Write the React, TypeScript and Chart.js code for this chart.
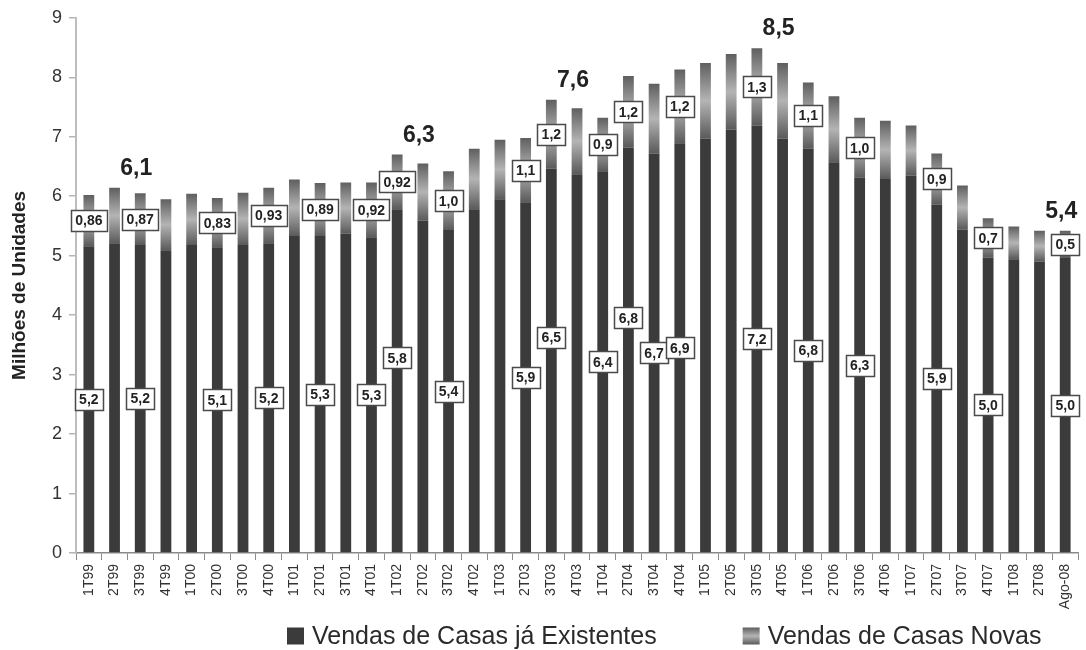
import { useEffect, useRef } from 'react';
import { Chart, registerables } from 'chart.js';

Chart.register(...registerables);

// Quarterly home sales (millions of units, annualised)
const quarters = [
  '1T99', '2T99', '3T99', '4T99', '1T00', '2T00', '3T00', '4T00',
  '1T01', '2T01', '3T01', '4T01', '1T02', '2T02', '3T02', '4T02',
  '1T03', '2T03', '3T03', '4T03', '1T04', '2T04', '3T04', '4T04',
  '1T05', '2T05', '3T05', '4T05', '1T06', '2T06', '3T06', '4T06',
  '1T07', '2T07', '3T07', '4T07', '1T08', '2T08', 'Ago-08',
];

const existingSales = [
  5.16, 5.21, 5.18, 5.09, 5.18, 5.14, 5.18, 5.21,
  5.33, 5.33, 5.37, 5.31, 5.78, 5.59, 5.43, 5.78,
  5.95, 5.90, 6.46, 6.37, 6.42, 6.82, 6.72, 6.89,
  6.97, 7.12, 7.19, 6.97, 6.80, 6.57, 6.31, 6.29,
  6.35, 5.86, 5.44, 4.97, 4.94, 4.90, 4.96,
];

const newSales = [
  0.86, 0.93, 0.87, 0.86, 0.86, 0.83, 0.88, 0.93,
  0.95, 0.89, 0.86, 0.92, 0.92, 0.96, 0.99, 1.02,
  1.00, 1.08, 1.16, 1.11, 0.90, 1.20, 1.17, 1.24,
  1.27, 1.27, 1.30, 1.27, 1.11, 1.11, 1.01, 0.98,
  0.84, 0.86, 0.74, 0.66, 0.55, 0.52, 0.46,
];

// Quarters whose values are printed in boxes
const existingLabelled = [
  '1T99', '3T99', '2T00', '4T00', '2T01', '4T01', '1T02', '3T02', '2T03', '3T03',
  '1T04', '2T04', '3T04', '4T04', '3T05', '1T06', '3T06', '2T07', '4T07', 'Ago-08',
];
const newLabelled = [
  '1T99', '3T99', '2T00', '4T00', '2T01', '4T01', '1T02', '3T02', '2T03', '3T03',
  '1T04', '2T04', '4T04', '3T05', '1T06', '3T06', '2T07', '4T07', 'Ago-08',
];
const newTwoDecimals = ['1T99', '3T99', '2T00', '4T00', '2T01', '4T01', '1T02'];

// Highlighted totals written above the bars
const peakAt = ['3T99', '2T02', '4T03', '4T05', 'Ago-08'];
const peakValues = [6.1, 6.3, 7.6, 8.5, 5.4];

const seriesNames = ['Vendas de Casas já Existentes', 'Vendas de Casas Novas'];
const yTicks = [0, 1, 2, 3, 4, 5, 6, 7, 8, 9];

const FONT = '"Liberation Sans", Arial, Helvetica, sans-serif';
const DARK = '#3b3b3b';

// Boxes nudged upward so they don't collide with their neighbours (px)
const existingLabelLift: Record<string, number> = { '1T02': 23, '3T03': 23, '2T04': 32 };

const fmt = (v: number, d: number) => v.toFixed(d).replace('.', ',');

function newSalesGradient(ctx: CanvasRenderingContext2D, top: number, bottom: number) {
  const g = ctx.createLinearGradient(0, top, 0, bottom);
  g.addColorStop(0, '#5f5f5f');
  g.addColorStop(0.5, '#b4b4b4');
  g.addColorStop(1, '#5a5a5a');
  return g;
}

function drawBox(ctx: CanvasRenderingContext2D, text: string, cx: number, cy: number) {
  ctx.font = `bold 14px ${FONT}`;
  const w = Math.round(ctx.measureText(text).width + 9);
  const h = 21;
  const x = Math.round(cx - w / 2) + 0.5;
  const y = Math.round(cy - h / 2) + 0.5;
  ctx.fillStyle = '#ffffff';
  ctx.fillRect(x, y, w, h);
  ctx.strokeStyle = '#4a4a4a';
  ctx.lineWidth = 1.5;
  ctx.strokeRect(x, y, w, h);
  ctx.fillStyle = '#222222';
  ctx.textAlign = 'center';
  ctx.textBaseline = 'middle';
  ctx.fillText(text, cx, cy + 1);
}

const valueBoxes = {
  id: 'valueBoxes',
  afterDatasetsDraw(chart: Chart) {
    const ctx = chart.ctx;
    const base = chart.getDatasetMeta(0).data as any[];
    const top = chart.getDatasetMeta(1).data as any[];
    ctx.save();
    quarters.forEach((q, i) => {
      if (existingLabelled.includes(q)) {
        const el = base[i];
        const cy = (el.y + el.base) / 2 - (existingLabelLift[q] || 0);
        drawBox(ctx, fmt(existingSales[i], 1), el.x, cy);
      }
      if (newLabelled.includes(q)) {
        const el = top[i];
        const cy = (el.y + el.base) / 2;
        drawBox(ctx, fmt(newSales[i], newTwoDecimals.includes(q) ? 2 : 1), el.x, cy);
      }
    });

    // Highlighted totals
    ctx.font = `bold 23px ${FONT}`;
    ctx.fillStyle = '#222222';
    ctx.textAlign = 'center';
    ctx.textBaseline = 'middle';
    peakAt.forEach((q, k) => {
      const i = quarters.indexOf(q);
      let minY = Infinity;
      for (let j = Math.max(0, i - 1); j <= Math.min(quarters.length - 1, i + 1); j++) {
        minY = Math.min(minY, top[j].y);
      }
      ctx.fillText(fmt(peakValues[k], 1), top[i].x - 4, minY - 19);
    });
    ctx.restore();
  },
};

const bottomLegend = {
  id: 'bottomLegend',
  afterDraw(chart: Chart) {
    const ctx = chart.ctx;
    ctx.save();
    ctx.font = `25px ${FONT}`;
    ctx.textBaseline = 'middle';
    ctx.textAlign = 'left';
    const cy = 637;
    const box = 17;
    let x = 287;
    seriesNames.forEach((name, k) => {
      const by = cy - box / 2 - 1;
      if (k === 0) {
        ctx.fillStyle = DARK;
      } else {
        ctx.fillStyle = newSalesGradient(ctx, by, by + box);
      }
      ctx.fillRect(x, by, box, box);
      ctx.fillStyle = '#2a2a2a';
      ctx.fillText(name, x + box + 8, cy);
      x += box + 8 + ctx.measureText(name).width + 86;
    });
    ctx.restore();
  },
};

export default function App() {
  const canvasRef = useRef<HTMLCanvasElement | null>(null);

  useEffect(() => {
    const canvas = canvasRef.current;
    if (!canvas) return;

    const chart = new Chart(canvas, {
      type: 'bar',
      data: {
        labels: quarters,
        datasets: [
          {
            label: seriesNames[0],
            data: existingSales,
            backgroundColor: DARK,
            borderWidth: 0,
            barPercentage: 0.42,
            categoryPercentage: 1,
            stack: 'vendas',
          },
          {
            label: seriesNames[1],
            data: newSales,
            backgroundColor: (c: any) => {
              const { chart: ch, dataIndex } = c;
              if (!ch.chartArea || dataIndex === undefined) return '#888888';
              const y = ch.scales.y;
              const t = y.getPixelForValue(existingSales[dataIndex] + newSales[dataIndex]);
              const b = y.getPixelForValue(existingSales[dataIndex]);
              return newSalesGradient(ch.ctx, t, b);
            },
            borderWidth: 0,
            barPercentage: 0.42,
            categoryPercentage: 1,
            stack: 'vendas',
          },
        ],
      },
      options: {
        responsive: false,
        maintainAspectRatio: false,
        animation: false,
        devicePixelRatio: 1,
        layout: { padding: { top: 16, right: 0, left: 0, bottom: 0 } },
        plugins: {
          legend: { display: false },
          tooltip: { enabled: false },
        },
        scales: {
          x: {
            stacked: true,
            offset: true,
            grid: {
              display: true,
              offset: true,
              drawOnChartArea: false,
              drawTicks: true,
              tickLength: 7,
              color: '#8a8a8a',
              lineWidth: 1,
            },
            border: { display: true, color: '#8a8a8a', width: 1.5 },
            ticks: {
              autoSkip: false,
              maxRotation: 90,
              minRotation: 90,
              padding: 4,
              color: '#333333',
              font: { family: FONT, size: 14 },
            },
            afterFit: (scale: any) => {
              scale.height = 97;
            },
          },
          y: {
            stacked: true,
            min: 0,
            max: 9,
            afterBuildTicks: (scale: any) => {
              scale.ticks = yTicks.map((v) => ({ value: v }));
            },
            grid: {
              display: true,
              drawOnChartArea: false,
              drawTicks: true,
              tickLength: 7,
              color: '#b5b5b5',
              lineWidth: 1.5,
            },
            border: { display: true, color: '#bdbdbd', width: 2 },
            ticks: {
              padding: 7,
              color: '#333333',
              font: { family: FONT, size: 18 },
            },
            title: {
              display: true,
              text: 'Milhões de Unidades',
              color: '#222222',
              font: { family: FONT, size: 19, weight: 'bold' },
              padding: { top: 8, bottom: 0 },
            },
            afterFit: (scale: any) => {
              scale.width = 76;
            },
          },
        },
      },
      plugins: [valueBoxes, bottomLegend],
    });

    return () => chart.destroy();
  }, []);

  return (
    <div style={{ position: 'fixed', left: 0, top: 0, width: 1086, height: 650, background: '#ffffff' }}>
      <canvas ref={canvasRef} width={1086} height={650} style={{ display: 'block', width: 1086, height: 650 }} />
    </div>
  );
}
